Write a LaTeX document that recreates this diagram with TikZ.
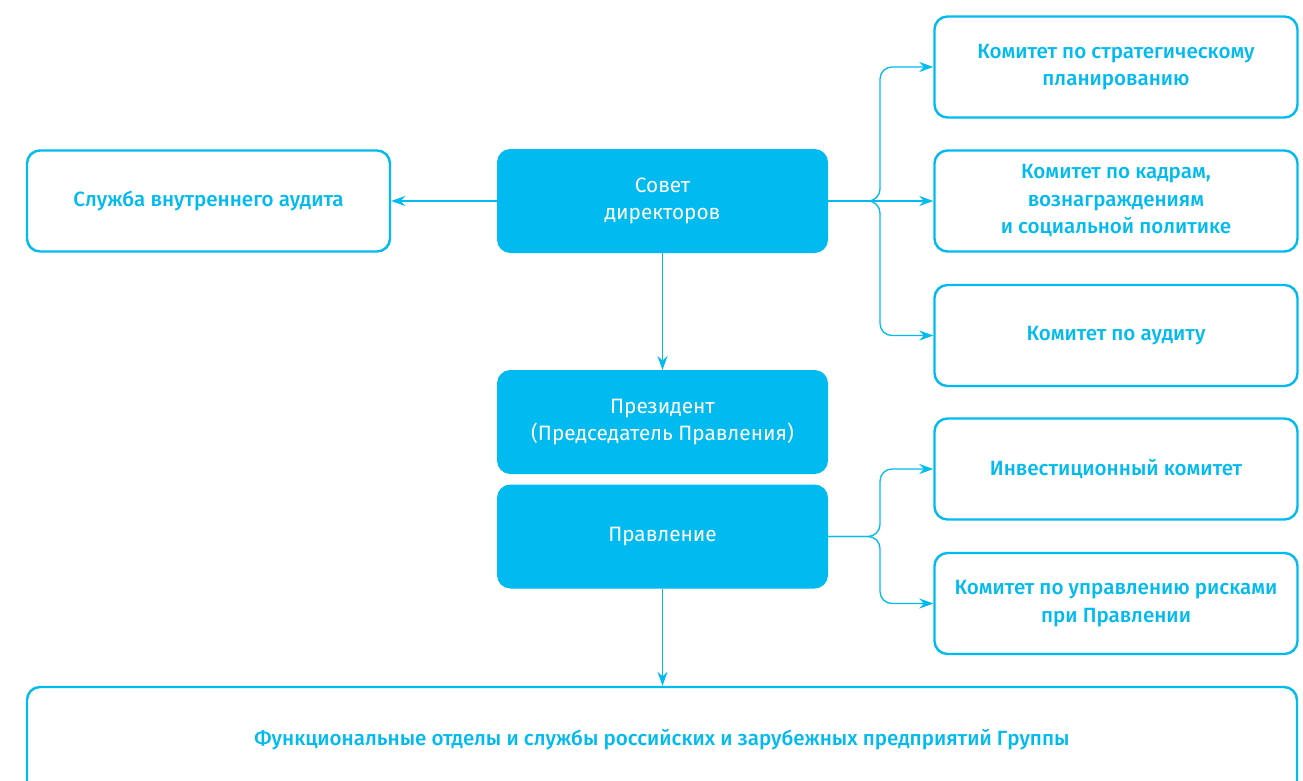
\documentclass[tikz,border=0pt]{standalone}
\usepackage{fontspec}
\setmainfont{Fira Sans}
\newfontfamily\medfont{Fira Sans Medium}
\usetikzlibrary{arrows.meta}
\definecolor{brand}{RGB}{0,186,240}
\tikzset{
  filledbox/.style={draw=brand, line width=1pt, fill=brand, rounded corners=13pt,
    text=white, align=center, font=\fontsize{20.8}{27.5}\selectfont,
    minimum width=330pt, minimum height=103pt, inner sep=0pt},
  outlinebox/.style={draw=brand, line width=2.4pt, fill=white, rounded corners=13pt,
    text=brand, align=center, font=\medfont\fontsize{20.6}{27.5}\selectfont,
    minimum height=101pt, inner sep=0pt},
  conn/.style={draw=brand, line width=1.3pt, rounded corners=12pt,
    -{Stealth[length=14pt,width=10pt]}},
}
\begin{document}
\begin{tikzpicture}[x=1pt, y=-1pt]
\useasboundingbox (0,0) rectangle (1303,781);

% central column
\node[filledbox] (sovet) at (662.5,201) {Совет\\директоров};
\node[filledbox] (pres) at (662.5,422) {Президент\\(Председатель Правления)};
\node[filledbox] (prav) at (662.5,536.5) {Правление};

% internal audit
\node[outlinebox, minimum width=363pt] (audit) at (208.5,201) {Служба внутреннего аудита};

% board committees
\node[outlinebox, minimum width=363pt] (k1) at (1116,67) {Комитет по стратегическому\\планированию};
\node[outlinebox, minimum width=363pt] (k2) at (1116,201) {Комитет по кадрам,\\вознаграждениям\\и социальной политике};
\node[outlinebox, minimum width=363pt] (k3) at (1116,335.5) {Комитет по аудиту};

% management committees
\node[outlinebox, minimum width=363pt] (k4) at (1116,469) {Инвестиционный комитет};
\node[outlinebox, minimum width=363pt] (k5) at (1116,603.5) {Комитет по управлению рисками\\при Правлении};

% departments
\node[outlinebox, minimum width=1270pt, minimum height=120pt] (funcs) at (662,747) {};
\node[text=brand, font=\medfont\fontsize{20.6}{27.5}\selectfont] (funcstext) at (662,740)
  {Функциональные отделы и службы российских и зарубежных предприятий Группы};

% connectors
\draw[conn] (sovet.west) -- (audit.east);
\draw[conn] (sovet.south) -- (pres.north);
\draw[conn] (prav.south) -- (funcs.north -| prav.south);

\draw[conn] (sovet.east) -- ++(52,0) |- (k1.west);
\draw[conn] (sovet.east) -- (k2.west);
\draw[conn] (sovet.east) -- ++(52,0) |- (k3.west);

\draw[conn] (prav.east) -- ++(52,0) |- (k4.west);
\draw[conn] (prav.east) -- ++(52,0) |- (k5.west);
\end{tikzpicture}
\end{document}
